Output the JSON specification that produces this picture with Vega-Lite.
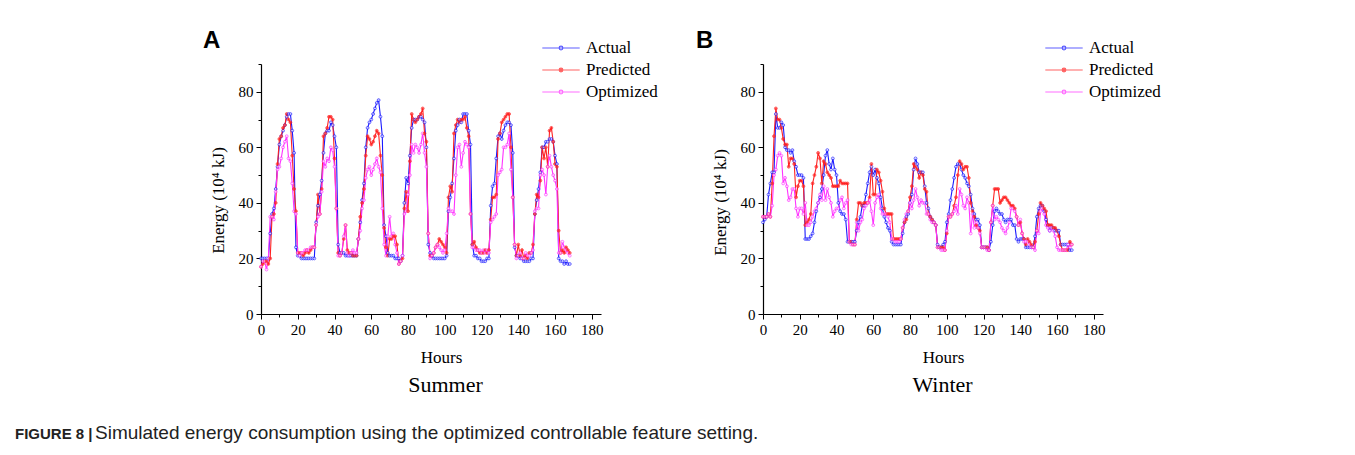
{
"$schema": "https://vega.github.io/schema/vega-lite/v6.json",
"background": "white",
"padding": {"left": 15, "top": 29, "right": 5, "bottom": 5},
"config": {
  "view": {"stroke": null},
  "axis": {"domainColor": "black", "domainWidth": 1.2, "tickColor": "black", "tickWidth": 1, "grid": false, "labelFont": "Liberation Serif", "labelFontSize": 15, "labelColor": "black", "titleFont": "Liberation Serif", "titleFontSize": 17, "titleFontWeight": "normal", "titleColor": "black", "labelOverlap": false, "labelFlush": false}
},
"datasets": {
"summer": [
{"h":0,"Actual":20,"Predicted":17,"Optimized":17},{"h":1,"Actual":20,"Predicted":18,"Optimized":19},{"h":2,"Actual":20,"Predicted":19,"Optimized":19},{"h":3,"Actual":20,"Predicted":19,"Optimized":16},{"h":4,"Actual":20,"Predicted":18,"Optimized":20},{"h":5,"Actual":29,"Predicted":20,"Optimized":35},{"h":6,"Actual":36,"Predicted":35,"Optimized":35},{"h":7,"Actual":38,"Predicted":36,"Optimized":34},{"h":8,"Actual":45,"Predicted":40,"Optimized":44},{"h":9,"Actual":53,"Predicted":54,"Optimized":52},
{"h":10,"Actual":61,"Predicted":63,"Optimized":53},{"h":11,"Actual":64,"Predicted":64,"Optimized":56},{"h":12,"Actual":66,"Predicted":67,"Optimized":60},{"h":13,"Actual":68,"Predicted":68,"Optimized":62},{"h":14,"Actual":71,"Predicted":72,"Optimized":64},{"h":15,"Actual":72,"Predicted":70,"Optimized":56},{"h":16,"Actual":72,"Predicted":69,"Optimized":55},{"h":17,"Actual":66,"Predicted":57,"Optimized":47},{"h":18,"Actual":58,"Predicted":45,"Optimized":37},{"h":19,"Actual":24,"Predicted":37,"Optimized":36},
{"h":20,"Actual":21,"Predicted":22,"Optimized":22},{"h":21,"Actual":21,"Predicted":22,"Optimized":21},{"h":22,"Actual":20,"Predicted":22,"Optimized":22},{"h":23,"Actual":20,"Predicted":21,"Optimized":22},{"h":24,"Actual":20,"Predicted":22,"Optimized":23},{"h":25,"Actual":20,"Predicted":23,"Optimized":23},{"h":26,"Actual":20,"Predicted":22,"Optimized":23},{"h":27,"Actual":20,"Predicted":23,"Optimized":24},{"h":28,"Actual":20,"Predicted":24,"Optimized":24},{"h":29,"Actual":20,"Predicted":24,"Optimized":24},
{"h":30,"Actual":33,"Predicted":32,"Optimized":32},{"h":31,"Actual":39,"Predicted":43,"Optimized":35},{"h":32,"Actual":43,"Predicted":36,"Optimized":36},{"h":33,"Actual":48,"Predicted":45,"Optimized":44},{"h":34,"Actual":58,"Predicted":64,"Optimized":55},{"h":35,"Actual":65,"Predicted":65,"Optimized":53},{"h":36,"Actual":66,"Predicted":67,"Optimized":56},{"h":37,"Actual":66,"Predicted":71,"Optimized":55},{"h":38,"Actual":69,"Predicted":71,"Optimized":60},{"h":39,"Actual":68,"Predicted":70,"Optimized":59},
{"h":40,"Actual":64,"Predicted":56,"Optimized":53},{"h":41,"Actual":60,"Predicted":38,"Optimized":38},{"h":42,"Actual":25,"Predicted":22,"Optimized":21},{"h":43,"Actual":22,"Predicted":21,"Optimized":21},{"h":44,"Actual":22,"Predicted":22,"Optimized":22},{"h":45,"Actual":22,"Predicted":27,"Optimized":28},{"h":46,"Actual":21,"Predicted":32,"Optimized":32},{"h":47,"Actual":21,"Predicted":23,"Optimized":22},{"h":48,"Actual":21,"Predicted":22,"Optimized":21},{"h":49,"Actual":21,"Predicted":22,"Optimized":22},
{"h":50,"Actual":21,"Predicted":21,"Optimized":23},{"h":51,"Actual":21,"Predicted":21,"Optimized":22},{"h":52,"Actual":21,"Predicted":21,"Optimized":22},{"h":53,"Actual":27,"Predicted":27,"Optimized":27},{"h":54,"Actual":33,"Predicted":35,"Optimized":30},{"h":55,"Actual":41,"Predicted":40,"Optimized":38},{"h":56,"Actual":47,"Predicted":45,"Optimized":41},{"h":57,"Actual":60,"Predicted":57,"Optimized":49},{"h":58,"Actual":67,"Predicted":64,"Optimized":52},{"h":59,"Actual":69,"Predicted":63,"Optimized":53},
{"h":60,"Actual":70,"Predicted":61,"Optimized":50},{"h":61,"Actual":72,"Predicted":62,"Optimized":52},{"h":62,"Actual":74,"Predicted":64,"Optimized":54},{"h":63,"Actual":76,"Predicted":66,"Optimized":56},{"h":64,"Actual":77,"Predicted":65,"Optimized":53},{"h":65,"Actual":71,"Predicted":57,"Optimized":51},{"h":66,"Actual":64,"Predicted":50,"Optimized":38},{"h":67,"Actual":32,"Predicted":31,"Optimized":25},{"h":68,"Actual":28,"Predicted":24,"Optimized":21},{"h":69,"Actual":22,"Predicted":21,"Optimized":28},
{"h":70,"Actual":21,"Predicted":27,"Optimized":35},{"h":71,"Actual":21,"Predicted":27,"Optimized":28},{"h":72,"Actual":21,"Predicted":28,"Optimized":29},{"h":73,"Actual":20,"Predicted":28,"Optimized":25},{"h":74,"Actual":20,"Predicted":25,"Optimized":22},{"h":75,"Actual":20,"Predicted":18,"Optimized":18},{"h":76,"Actual":19,"Predicted":19,"Optimized":19},{"h":77,"Actual":21,"Predicted":20,"Optimized":21},{"h":78,"Actual":40,"Predicted":38,"Optimized":36},{"h":79,"Actual":49,"Predicted":44,"Optimized":37},
{"h":80,"Actual":47,"Predicted":37,"Optimized":43},{"h":81,"Actual":57,"Predicted":55,"Optimized":50},{"h":82,"Actual":67,"Predicted":72,"Optimized":61},{"h":83,"Actual":70,"Predicted":70,"Optimized":58},{"h":84,"Actual":70,"Predicted":69,"Optimized":61},{"h":85,"Actual":70,"Predicted":70,"Optimized":60},{"h":86,"Actual":71,"Predicted":71,"Optimized":58},{"h":87,"Actual":71,"Predicted":72,"Optimized":61},{"h":88,"Actual":70,"Predicted":74,"Optimized":65},{"h":89,"Actual":69,"Predicted":65,"Optimized":58},
{"h":90,"Actual":60,"Predicted":62,"Optimized":53},{"h":91,"Actual":25,"Predicted":29,"Optimized":29},{"h":92,"Actual":22,"Predicted":21,"Optimized":20},{"h":93,"Actual":21,"Predicted":21,"Optimized":21},{"h":94,"Actual":20,"Predicted":22,"Optimized":22},{"h":95,"Actual":20,"Predicted":24,"Optimized":24},{"h":96,"Actual":20,"Predicted":25,"Optimized":25},{"h":97,"Actual":20,"Predicted":27,"Optimized":24},{"h":98,"Actual":20,"Predicted":26,"Optimized":23},{"h":99,"Actual":20,"Predicted":25,"Optimized":22},
{"h":100,"Actual":20,"Predicted":24,"Optimized":23},{"h":101,"Actual":21,"Predicted":22,"Optimized":29},{"h":102,"Actual":37,"Predicted":42,"Optimized":38},{"h":103,"Actual":42,"Predicted":46,"Optimized":37},{"h":104,"Actual":47,"Predicted":44,"Optimized":37},{"h":105,"Actual":56,"Predicted":65,"Optimized":36},{"h":106,"Actual":66,"Predicted":68,"Optimized":50},{"h":107,"Actual":68,"Predicted":70,"Optimized":60},{"h":108,"Actual":70,"Predicted":69,"Optimized":61},{"h":109,"Actual":69,"Predicted":70,"Optimized":53},
{"h":110,"Actual":72,"Predicted":70,"Optimized":58},{"h":111,"Actual":72,"Predicted":71,"Optimized":62},{"h":112,"Actual":72,"Predicted":67,"Optimized":61},{"h":113,"Actual":66,"Predicted":64,"Optimized":60},{"h":114,"Actual":61,"Predicted":36,"Optimized":36},{"h":115,"Actual":25,"Predicted":25,"Optimized":24},{"h":116,"Actual":21,"Predicted":26,"Optimized":24},{"h":117,"Actual":21,"Predicted":24,"Optimized":23},{"h":118,"Actual":20,"Predicted":23,"Optimized":23},{"h":119,"Actual":20,"Predicted":22,"Optimized":23},
{"h":120,"Actual":19,"Predicted":22,"Optimized":22},{"h":121,"Actual":19,"Predicted":22,"Optimized":23},{"h":122,"Actual":19,"Predicted":23,"Optimized":22},{"h":123,"Actual":20,"Predicted":22,"Optimized":23},{"h":124,"Actual":20,"Predicted":23,"Optimized":22},{"h":125,"Actual":39,"Predicted":34,"Optimized":33},{"h":126,"Actual":46,"Predicted":42,"Optimized":34},{"h":127,"Actual":47,"Predicted":42,"Optimized":35},{"h":128,"Actual":56,"Predicted":43,"Optimized":36},{"h":129,"Actual":64,"Predicted":63,"Optimized":50},
{"h":130,"Actual":65,"Predicted":65,"Optimized":51},{"h":131,"Actual":63,"Predicted":69,"Optimized":52},{"h":132,"Actual":66,"Predicted":70,"Optimized":60},{"h":133,"Actual":68,"Predicted":71,"Optimized":60},{"h":134,"Actual":69,"Predicted":72,"Optimized":61},{"h":135,"Actual":69,"Predicted":72,"Optimized":65},{"h":136,"Actual":68,"Predicted":60,"Optimized":52},{"h":137,"Actual":58,"Predicted":42,"Optimized":42},{"h":138,"Actual":24,"Predicted":25,"Optimized":25},{"h":139,"Actual":21,"Predicted":21,"Optimized":20},
{"h":140,"Actual":21,"Predicted":25,"Optimized":21},{"h":141,"Actual":20,"Predicted":21,"Optimized":22},{"h":142,"Actual":20,"Predicted":23,"Optimized":20},{"h":143,"Actual":19,"Predicted":20,"Optimized":20},{"h":144,"Actual":19,"Predicted":21,"Optimized":22},{"h":145,"Actual":19,"Predicted":20,"Optimized":21},{"h":146,"Actual":19,"Predicted":22,"Optimized":21},{"h":147,"Actual":20,"Predicted":22,"Optimized":22},{"h":148,"Actual":20,"Predicted":25,"Optimized":23},{"h":149,"Actual":36,"Predicted":36,"Optimized":37},
{"h":150,"Actual":41,"Predicted":43,"Optimized":38},{"h":151,"Actual":45,"Predicted":42,"Optimized":38},{"h":152,"Actual":51,"Predicted":48,"Optimized":50},{"h":153,"Actual":60,"Predicted":60,"Optimized":52},{"h":154,"Actual":60,"Predicted":56,"Optimized":50},{"h":155,"Actual":62,"Predicted":60,"Optimized":43},{"h":156,"Actual":62,"Predicted":53,"Optimized":53},{"h":157,"Actual":63,"Predicted":66,"Optimized":57},{"h":158,"Actual":63,"Predicted":67,"Optimized":53},{"h":159,"Actual":62,"Predicted":62,"Optimized":50},
{"h":160,"Actual":57,"Predicted":54,"Optimized":48},{"h":161,"Actual":54,"Predicted":53,"Optimized":45},{"h":162,"Actual":20,"Predicted":30,"Optimized":22},{"h":163,"Actual":19,"Predicted":22,"Optimized":22},{"h":164,"Actual":19,"Predicted":23,"Optimized":26},{"h":165,"Actual":18,"Predicted":22,"Optimized":24},{"h":166,"Actual":19,"Predicted":24,"Optimized":23},{"h":167,"Actual":18,"Predicted":23,"Optimized":22},{"h":168,"Actual":18,"Predicted":22,"Optimized":21}
],
"winter": [
{"h":0,"Actual":33,"Predicted":35,"Optimized":35},{"h":1,"Actual":34,"Predicted":35,"Optimized":35},{"h":2,"Actual":35,"Predicted":35,"Optimized":35},{"h":3,"Actual":43,"Predicted":36,"Optimized":36},{"h":4,"Actual":47,"Predicted":35,"Optimized":35},{"h":5,"Actual":51,"Predicted":47,"Optimized":39},{"h":6,"Actual":51,"Predicted":64,"Optimized":50},{"h":7,"Actual":72,"Predicted":74,"Optimized":52},{"h":8,"Actual":67,"Predicted":70,"Optimized":57},{"h":9,"Actual":67,"Predicted":70,"Optimized":58},
{"h":10,"Actual":69,"Predicted":67,"Optimized":57},{"h":11,"Actual":68,"Predicted":63,"Optimized":47},{"h":12,"Actual":60,"Predicted":61,"Optimized":49},{"h":13,"Actual":59,"Predicted":61,"Optimized":46},{"h":14,"Actual":59,"Predicted":53,"Optimized":41},{"h":15,"Actual":58,"Predicted":56,"Optimized":42},{"h":16,"Actual":59,"Predicted":56,"Optimized":45},{"h":17,"Actual":55,"Predicted":54,"Optimized":45},{"h":18,"Actual":53,"Predicted":42,"Optimized":38},{"h":19,"Actual":50,"Predicted":46,"Optimized":35},
{"h":20,"Actual":50,"Predicted":48,"Optimized":38},{"h":21,"Actual":50,"Predicted":48,"Optimized":38},{"h":22,"Actual":49,"Predicted":46,"Optimized":36},{"h":23,"Actual":27,"Predicted":32,"Optimized":40},{"h":24,"Actual":27,"Predicted":33,"Optimized":32},{"h":25,"Actual":27,"Predicted":34,"Optimized":32},{"h":26,"Actual":28,"Predicted":36,"Optimized":33},{"h":27,"Actual":29,"Predicted":47,"Optimized":35},{"h":28,"Actual":33,"Predicted":50,"Optimized":37},{"h":29,"Actual":37,"Predicted":53,"Optimized":38},
{"h":30,"Actual":40,"Predicted":58,"Optimized":40},{"h":31,"Actual":42,"Predicted":56,"Optimized":43},{"h":32,"Actual":45,"Predicted":47,"Optimized":41},{"h":33,"Actual":50,"Predicted":55,"Optimized":46},{"h":34,"Actual":57,"Predicted":54,"Optimized":41},{"h":35,"Actual":59,"Predicted":51,"Optimized":45},{"h":36,"Actual":54,"Predicted":50,"Optimized":42},{"h":37,"Actual":52,"Predicted":49,"Optimized":40},{"h":38,"Actual":56,"Predicted":46,"Optimized":35},{"h":39,"Actual":52,"Predicted":46,"Optimized":37},
{"h":40,"Actual":50,"Predicted":46,"Optimized":38},{"h":41,"Actual":40,"Predicted":46,"Optimized":38},{"h":42,"Actual":37,"Predicted":48,"Optimized":41},{"h":43,"Actual":36,"Predicted":47,"Optimized":42},{"h":44,"Actual":36,"Predicted":47,"Optimized":38},{"h":45,"Actual":34,"Predicted":47,"Optimized":40},{"h":46,"Actual":26,"Predicted":47,"Optimized":41},{"h":47,"Actual":26,"Predicted":26,"Optimized":26},{"h":48,"Actual":26,"Predicted":26,"Optimized":25},{"h":49,"Actual":26,"Predicted":25,"Optimized":25},
{"h":50,"Actual":26,"Predicted":25,"Optimized":25},{"h":51,"Actual":30,"Predicted":34,"Optimized":33},{"h":52,"Actual":33,"Predicted":40,"Optimized":30},{"h":53,"Actual":35,"Predicted":40,"Optimized":33},{"h":54,"Actual":39,"Predicted":39,"Optimized":34},{"h":55,"Actual":39,"Predicted":40,"Optimized":38},{"h":56,"Actual":43,"Predicted":40,"Optimized":39},{"h":57,"Actual":47,"Predicted":40,"Optimized":40},{"h":58,"Actual":51,"Predicted":42,"Optimized":41},{"h":59,"Actual":53,"Predicted":54,"Optimized":37},
{"h":60,"Actual":50,"Predicted":43,"Optimized":32},{"h":61,"Actual":52,"Predicted":43,"Optimized":40},{"h":62,"Actual":49,"Predicted":52,"Optimized":42},{"h":63,"Actual":47,"Predicted":51,"Optimized":43},{"h":64,"Actual":42,"Predicted":48,"Optimized":38},{"h":65,"Actual":38,"Predicted":44,"Optimized":36},{"h":66,"Actual":35,"Predicted":38,"Optimized":36},{"h":67,"Actual":33,"Predicted":36,"Optimized":36},{"h":68,"Actual":31,"Predicted":36,"Optimized":35},{"h":69,"Actual":30,"Predicted":36,"Optimized":33},
{"h":70,"Actual":26,"Predicted":36,"Optimized":27},{"h":71,"Actual":25,"Predicted":27,"Optimized":27},{"h":72,"Actual":25,"Predicted":27,"Optimized":26},{"h":73,"Actual":25,"Predicted":27,"Optimized":26},{"h":74,"Actual":25,"Predicted":27,"Optimized":26},{"h":75,"Actual":25,"Predicted":27,"Optimized":27},{"h":76,"Actual":29,"Predicted":31,"Optimized":31},{"h":77,"Actual":33,"Predicted":33,"Optimized":34},{"h":78,"Actual":35,"Predicted":34,"Optimized":36},{"h":79,"Actual":36,"Predicted":37,"Optimized":37},
{"h":80,"Actual":40,"Predicted":42,"Optimized":40},{"h":81,"Actual":43,"Predicted":46,"Optimized":38},{"h":82,"Actual":52,"Predicted":54,"Optimized":41},{"h":83,"Actual":56,"Predicted":53,"Optimized":45},{"h":84,"Actual":54,"Predicted":52,"Optimized":42},{"h":85,"Actual":51,"Predicted":49,"Optimized":39},{"h":86,"Actual":51,"Predicted":51,"Optimized":41},{"h":87,"Actual":51,"Predicted":50,"Optimized":40},{"h":88,"Actual":46,"Predicted":45,"Optimized":40},{"h":89,"Actual":40,"Predicted":44,"Optimized":36},
{"h":90,"Actual":38,"Predicted":36,"Optimized":36},{"h":91,"Actual":35,"Predicted":35,"Optimized":34},{"h":92,"Actual":34,"Predicted":34,"Optimized":33},{"h":93,"Actual":33,"Predicted":33,"Optimized":33},{"h":94,"Actual":32,"Predicted":32,"Optimized":32},{"h":95,"Actual":25,"Predicted":24,"Optimized":24},{"h":96,"Actual":24,"Predicted":24,"Optimized":24},{"h":97,"Actual":24,"Predicted":24,"Optimized":23},{"h":98,"Actual":25,"Predicted":24,"Optimized":23},{"h":99,"Actual":26,"Predicted":23,"Optimized":23},
{"h":100,"Actual":33,"Predicted":29,"Optimized":30},{"h":101,"Actual":36,"Predicted":35,"Optimized":35},{"h":102,"Actual":41,"Predicted":35,"Optimized":35},{"h":103,"Actual":45,"Predicted":36,"Optimized":36},{"h":104,"Actual":49,"Predicted":39,"Optimized":37},{"h":105,"Actual":53,"Predicted":42,"Optimized":39},{"h":106,"Actual":54,"Predicted":50,"Optimized":36},{"h":107,"Actual":54,"Predicted":55,"Optimized":45},{"h":108,"Actual":52,"Predicted":54,"Optimized":43},{"h":109,"Actual":50,"Predicted":52,"Optimized":39},
{"h":110,"Actual":49,"Predicted":53,"Optimized":38},{"h":111,"Actual":47,"Predicted":53,"Optimized":42},{"h":112,"Actual":46,"Predicted":49,"Optimized":40},{"h":113,"Actual":43,"Predicted":40,"Optimized":29},{"h":114,"Actual":38,"Predicted":37,"Optimized":36},{"h":115,"Actual":36,"Predicted":35,"Optimized":31},{"h":116,"Actual":34,"Predicted":32,"Optimized":33},{"h":117,"Actual":34,"Predicted":31,"Optimized":31},{"h":118,"Actual":32,"Predicted":30,"Optimized":29},{"h":119,"Actual":24,"Predicted":24,"Optimized":24},
{"h":120,"Actual":24,"Predicted":24,"Optimized":24},{"h":121,"Actual":24,"Predicted":24,"Optimized":24},{"h":122,"Actual":24,"Predicted":24,"Optimized":23},{"h":123,"Actual":23,"Predicted":23,"Optimized":23},{"h":124,"Actual":26,"Predicted":33,"Optimized":33},{"h":125,"Actual":32,"Predicted":39,"Optimized":39},{"h":126,"Actual":37,"Predicted":45,"Optimized":34},{"h":127,"Actual":38,"Predicted":45,"Optimized":35},{"h":128,"Actual":37,"Predicted":45,"Optimized":34},{"h":129,"Actual":36,"Predicted":40,"Optimized":33},
{"h":130,"Actual":36,"Predicted":41,"Optimized":31},{"h":131,"Actual":34,"Predicted":42,"Optimized":30},{"h":132,"Actual":33,"Predicted":42,"Optimized":29},{"h":133,"Actual":34,"Predicted":41,"Optimized":31},{"h":134,"Actual":34,"Predicted":40,"Optimized":33},{"h":135,"Actual":34,"Predicted":39,"Optimized":38},{"h":136,"Actual":32,"Predicted":39,"Optimized":38},{"h":137,"Actual":32,"Predicted":38,"Optimized":37},{"h":138,"Actual":27,"Predicted":35,"Optimized":35},{"h":139,"Actual":26,"Predicted":32,"Optimized":32},
{"h":140,"Actual":27,"Predicted":33,"Optimized":34},{"h":141,"Actual":27,"Predicted":29,"Optimized":29},{"h":142,"Actual":27,"Predicted":27,"Optimized":26},{"h":143,"Actual":24,"Predicted":25,"Optimized":26},{"h":144,"Actual":24,"Predicted":27,"Optimized":26},{"h":145,"Actual":24,"Predicted":26,"Optimized":25},{"h":146,"Actual":24,"Predicted":25,"Optimized":24},{"h":147,"Actual":24,"Predicted":24,"Optimized":24},{"h":148,"Actual":28,"Predicted":26,"Optimized":23},{"h":149,"Actual":35,"Predicted":30,"Optimized":30},
{"h":150,"Actual":38,"Predicted":36,"Optimized":29},{"h":151,"Actual":39,"Predicted":40,"Optimized":37},{"h":152,"Actual":39,"Predicted":39,"Optimized":38},{"h":153,"Actual":37,"Predicted":38,"Optimized":36},{"h":154,"Actual":34,"Predicted":37,"Optimized":32},{"h":155,"Actual":32,"Predicted":32,"Optimized":31},{"h":156,"Actual":30,"Predicted":32,"Optimized":30},{"h":157,"Actual":31,"Predicted":32,"Optimized":31},{"h":158,"Actual":31,"Predicted":31,"Optimized":30},{"h":159,"Actual":30,"Predicted":31,"Optimized":28},
{"h":160,"Actual":30,"Predicted":30,"Optimized":24},{"h":161,"Actual":30,"Predicted":28,"Optimized":23},{"h":162,"Actual":25,"Predicted":25,"Optimized":23},{"h":163,"Actual":25,"Predicted":23,"Optimized":23},{"h":164,"Actual":25,"Predicted":23,"Optimized":23},{"h":165,"Actual":25,"Predicted":23,"Optimized":23},{"h":166,"Actual":25,"Predicted":23,"Optimized":25},{"h":167,"Actual":23,"Predicted":26,"Optimized":24},{"h":168,"Actual":23,"Predicted":25,"Optimized":25}
]
},
"title": {"text": "Simulated energy consumption using the optimized controllable feature setting.", "orient": "bottom", "anchor": "start", "font": "Liberation Sans", "fontSize": 19, "fontWeight": "normal", "color": "#222222", "baseline": "alphabetic", "dx": 80, "offset": -3},
"vconcat": [
{
"title": {"text": "FIGURE 8 |", "orient": "bottom", "anchor": "start", "font": "Liberation Sans", "fontSize": 15, "fontWeight": "bold", "color": "#222222", "baseline": "alphabetic", "dx": -188, "offset": 43},
"spacing": 38,
"resolve": {"scale": {"stroke": "independent", "fill": "independent"}, "legend": {"stroke": "independent", "fill": "independent"}},
"hconcat": [
{
"title": {"text": "Summer", "orient": "bottom", "anchor": "middle", "font": "Liberation Serif", "fontSize": 22, "fontWeight": "normal", "color": "black", "offset": 10, "dx": 15},
"resolve": {"scale": {"stroke": "independent", "fill": "independent"}, "legend": {"stroke": "independent", "fill": "independent"}},
"vconcat": [
{
"width": 340, "height": 250,
"data": {"name": "summer"},
"transform": [{"fold": ["Actual", "Predicted", "Optimized"], "as": ["series", "value"]}],
"title": {"text": "A", "anchor": "start", "font": "Liberation Sans", "fontSize": 24, "fontWeight": "bold", "color": "black", "baseline": "alphabetic", "offset": -22, "dy": 14, "dx": -6},
"encoding": {
"x": {"field": "h", "type": "quantitative", "scale": {"domain": [0, 185], "nice": false, "zero": false},
 "axis": {"title": "Hours", "values": [0,10,20,30,40,50,60,70,80,90,100,110,120,130,140,150,160,170,180], "labelExpr": "datum.value % 20 === 0 ? datum.label : ''", "tickSize": {"condition": {"test": "datum.value % 20 === 0", "value": 5}, "value": 3}, "labelPadding": 3, "titlePadding": 12, "titleX": 180}},
"y": {"field": "value", "type": "quantitative", "scale": {"domain": [0, 90], "nice": false},
 "axis": {"title": "Energy (10⁴ kJ)", "values": [0,10,20,30,40,50,60,70,80,90], "labelExpr": "datum.value % 20 === 0 ? datum.label : ''", "tickSize": {"condition": {"test": "datum.value % 20 === 0", "value": 5}, "value": 3}, "labelPadding": 3, "titlePadding": 11, "titleY": 136}},
"stroke": {"field": "series", "type": "nominal", "sort": ["Actual", "Predicted", "Optimized"], "scale": {"domain": ["Actual", "Predicted", "Optimized"], "range": ["#1a1aff", "#ff2222", "#ff33ff"]},
 "legend": {"orient": "none", "legendX": 288, "legendY": -28, "title": null, "labelFont": "Liberation Serif", "labelFontSize": 17, "labelColor": "black", "symbolType": "M-1.7,0L1.7,0M-0.17,0A0.17,0.17 0 1,1 0.17,0A0.17,0.17 0 1,1 -0.17,0", "symbolSize": 484, "symbolStrokeWidth": 1.2, "symbolFillColor": "transparent", "rowPadding": 2, "labelOffset": 13}}
},
"layer": [
{"mark": {"type": "line", "strokeWidth": 1.1}},
{"mark": {"type": "point", "size": 8, "strokeWidth": 1, "filled": false}, "encoding": {"fill": {"field": "series", "type": "nominal", "scale": {"domain": ["Actual", "Predicted", "Optimized"], "range": ["#ffffff", "#ff2222", "#ffffff"]}, "legend": null}}}
]
}
]
},
{
"title": {"text": "Winter", "orient": "bottom", "anchor": "middle", "font": "Liberation Serif", "fontSize": 22, "fontWeight": "normal", "color": "black", "offset": 10, "dx": 14},
"resolve": {"scale": {"stroke": "independent", "fill": "independent"}, "legend": {"stroke": "independent", "fill": "independent"}},
"vconcat": [
{
"width": 340, "height": 250,
"data": {"name": "winter"},
"transform": [{"fold": ["Actual", "Predicted", "Optimized"], "as": ["series", "value"]}],
"title": {"text": "B", "anchor": "start", "font": "Liberation Sans", "fontSize": 24, "fontWeight": "bold", "color": "black", "baseline": "alphabetic", "offset": -22, "dy": 14, "dx": -15},
"encoding": {
"x": {"field": "h", "type": "quantitative", "scale": {"domain": [0, 185], "nice": false, "zero": false},
 "axis": {"title": "Hours", "values": [0,10,20,30,40,50,60,70,80,90,100,110,120,130,140,150,160,170,180], "labelExpr": "datum.value % 20 === 0 ? datum.label : ''", "tickSize": {"condition": {"test": "datum.value % 20 === 0", "value": 5}, "value": 3}, "labelPadding": 3, "titlePadding": 12, "titleX": 180}},
"y": {"field": "value", "type": "quantitative", "scale": {"domain": [0, 90], "nice": false},
 "axis": {"title": "Energy (10⁴ kJ)", "values": [0,10,20,30,40,50,60,70,80,90], "labelExpr": "datum.value % 20 === 0 ? datum.label : ''", "tickSize": {"condition": {"test": "datum.value % 20 === 0", "value": 5}, "value": 3}, "labelPadding": 3, "titlePadding": 11, "titleY": 138}},
"stroke": {"field": "series", "type": "nominal", "sort": ["Actual", "Predicted", "Optimized"], "scale": {"domain": ["Actual", "Predicted", "Optimized"], "range": ["#1a1aff", "#ff2222", "#ff33ff"]},
 "legend": {"orient": "none", "legendX": 289, "legendY": -28, "title": null, "labelFont": "Liberation Serif", "labelFontSize": 17, "labelColor": "black", "symbolType": "M-1.7,0L1.7,0M-0.17,0A0.17,0.17 0 1,1 0.17,0A0.17,0.17 0 1,1 -0.17,0", "symbolSize": 484, "symbolStrokeWidth": 1.2, "symbolFillColor": "transparent", "rowPadding": 2, "labelOffset": 13}}
},
"layer": [
{"mark": {"type": "line", "strokeWidth": 1.1}},
{"mark": {"type": "point", "size": 8, "strokeWidth": 1, "filled": false}, "encoding": {"fill": {"field": "series", "type": "nominal", "scale": {"domain": ["Actual", "Predicted", "Optimized"], "range": ["#ffffff", "#ff2222", "#ffffff"]}, "legend": null}}}
]
}
]
}
]
}
]
}
